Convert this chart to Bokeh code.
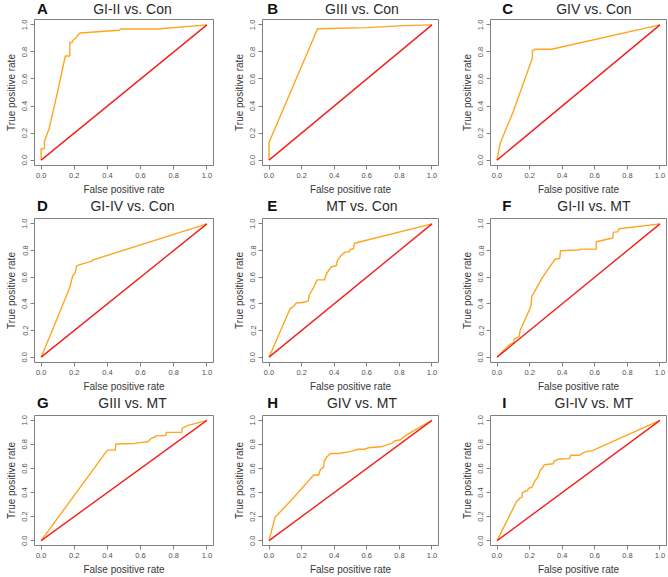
from bokeh.plotting import figure
from bokeh.layouts import gridplot
from bokeh.models import Range1d, FixedTicker, Label
from bokeh.embed import file_html
from bokeh.resources import INLINE

titles = ["GI-II vs. Con", "GIII vs. Con", "GIV vs. Con",
          "GI-IV vs. Con", "MT vs. Con", "GI-II vs. MT",
          "GIII vs. MT", "GIV vs. MT", "GI-IV vs. MT"]
letters = ["A", "B", "C", "D", "E", "F", "G", "H", "I"]

fpr_a = [0, 0, 0.02, 0.02, 0.05, 0.10, 0.146, 0.173, 0.173, 0.187, 0.195, 0.205, 0.215, 0.225, 0.235, 0.47, 0.48, 0.70, 1.0]
tpr_a = [0, 0.084, 0.084, 0.14, 0.24, 0.51, 0.77, 0.77, 0.87, 0.87, 0.89, 0.90, 0.91, 0.93, 0.94, 0.96, 0.97, 0.97, 1.0]

fpr_b = [0, 0, 0.298, 0.60, 0.83, 1.0]
tpr_b = [0, 0.13, 0.972, 0.98, 0.995, 1.0]

fpr_c = [0, 0.01, 0.02, 0.10, 0.217, 0.217, 0.235, 0.335, 1.0]
tpr_c = [0, 0.07, 0.126, 0.36, 0.756, 0.81, 0.82, 0.82, 1.0]

fpr_d = [0, 0.09, 0.173, 0.187, 0.195, 0.205, 0.215, 0.225, 0.305, 0.315, 1.0]
tpr_d = [0, 0.27, 0.524, 0.594, 0.62, 0.63, 0.686, 0.69, 0.72, 0.73, 1.0]

fpr_e = [0, 0.132, 0.142, 0.167, 0.203, 0.24, 0.248, 0.274, 0.295, 0.341, 0.35, 0.366, 0.382, 0.413, 0.42, 0.447, 0.47, 0.492, 0.498, 0.518, 0.524, 1.0]
tpr_e = [0, 0.37, 0.37, 0.406, 0.41, 0.42, 0.468, 0.524, 0.58, 0.58, 0.62, 0.65, 0.678, 0.686, 0.728, 0.768, 0.79, 0.79, 0.81, 0.81, 0.854, 1.0]

fpr_f = [0, 0.057, 0.081, 0.10, 0.105, 0.136, 0.142, 0.175, 0.209, 0.213, 0.28, 0.355, 0.385, 0.389, 0.497, 0.517, 0.609, 0.609, 0.71, 0.714, 0.74, 0.75, 1.0]
tpr_f = [0, 0.07, 0.098, 0.104, 0.137, 0.154, 0.2, 0.29, 0.384, 0.454, 0.60, 0.734, 0.74, 0.798, 0.804, 0.81, 0.81, 0.866, 0.894, 0.938, 0.94, 0.963, 1.0]

fpr_g = [0, 0.40, 0.447, 0.451, 0.563, 0.644, 0.66, 0.701, 0.752, 0.756, 0.848, 0.852, 0.888, 1.0]
tpr_g = [0, 0.752, 0.752, 0.803, 0.808, 0.822, 0.845, 0.873, 0.873, 0.90, 0.90, 0.935, 0.958, 1.0]

fpr_h = [0, 0.037, 0.142, 0.274, 0.305, 0.315, 0.335, 0.339, 0.355, 0.376, 0.427, 0.488, 0.508, 0.549, 0.589, 0.61, 0.687, 0.752, 0.772, 0.803, 0.844, 0.915, 1.0]
tpr_h = [0, 0.194, 0.344, 0.546, 0.546, 0.59, 0.611, 0.662, 0.696, 0.724, 0.724, 0.738, 0.744, 0.76, 0.76, 0.772, 0.78, 0.808, 0.83, 0.837, 0.879, 0.935, 1.0]

fpr_i = [0, 0.122, 0.132, 0.142, 0.152, 0.156, 0.176, 0.188, 0.193, 0.213, 0.223, 0.233, 0.25, 0.264, 0.278, 0.29, 0.345, 0.351, 0.375, 0.426, 0.446, 0.452, 0.507, 0.527, 0.558, 0.578, 1.0]
tpr_i = [0, 0.33, 0.338, 0.358, 0.358, 0.40, 0.414, 0.414, 0.437, 0.442, 0.47, 0.499, 0.527, 0.583, 0.603, 0.631, 0.639, 0.662, 0.676, 0.682, 0.682, 0.71, 0.71, 0.73, 0.744, 0.744, 1.0]

fprs = [fpr_a, fpr_b, fpr_c, fpr_d, fpr_e, fpr_f, fpr_g, fpr_h, fpr_i]
tprs = [tpr_a, tpr_b, tpr_c, tpr_d, tpr_e, tpr_f, tpr_g, tpr_h, tpr_i]

diag = [0.0, 1.0]
ticks = [0.0, 0.2, 0.4, 0.6, 0.8, 1.0]
tick_labels = ["0.0", "0.2", "0.4", "0.6", "0.8", "1.0"]

FONT = "Liberation Sans"
# layout (pixels)
col_w = [222, 223, 223]
col_l = [34, 40, 45]
col_r = [9, 7, 2]
letter_x = [3, 6, 15]
head_h = 16
plot_h = [181, 181, 167]
plot_top = [3, 5, 5]


def make_header(i):
    r, c = divmod(i, 3)
    w = col_w[c]
    h = figure(width=w, height=head_h, x_range=Range1d(0, w), y_range=Range1d(0, head_h),
               x_axis_type=None, y_axis_type=None, output_backend="svg",
               toolbar_location=None, min_border=0, min_border_left=0,
               min_border_right=0, min_border_top=0, min_border_bottom=0)
    h.outline_line_color = None
    h.xgrid.visible = False
    h.ygrid.visible = False
    h.background_fill_color = "white"
    h.border_fill_color = "white"
    frame_w = w - col_l[c] - col_r[c]
    h.add_layout(Label(x=col_l[c] + frame_w / 2 - 2, y=head_h / 2, text=titles[i],
                       text_font=FONT, text_font_size="14px", text_font_style="normal",
                       text_color="#2a2a2a", text_align="center", text_baseline="middle"))
    h.add_layout(Label(x=letter_x[c], y=head_h / 2, text=letters[i],
                       text_font=FONT, text_font_size="15px", text_font_style="bold",
                       text_color="#111111", text_align="left", text_baseline="middle"))
    return h


def make_plot(i):
    r, c = divmod(i, 3)
    p = figure(width=col_w[c], height=plot_h[r],
               x_range=Range1d(-0.04, 1.04), y_range=Range1d(-0.04, 1.04),
               output_backend="svg", toolbar_location=None,
               min_border_left=col_l[c], min_border_right=col_r[c],
               min_border_top=plot_top[r], min_border_bottom=30)
    p.xgrid.visible = False
    p.ygrid.visible = False
    p.outline_line_color = "#808080"
    p.outline_line_width = 1
    p.background_fill_color = "white"
    p.border_fill_color = "white"

    for ax in (p.xaxis[0], p.yaxis[0]):
        ax.ticker = FixedTicker(ticks=ticks)
        ax.major_label_overrides = {t: l for t, l in zip(ticks, tick_labels)}
        ax.minor_tick_line_color = None
        ax.axis_line_color = None
        ax.major_tick_line_color = "#808080"
        ax.major_tick_out = 4
        ax.major_tick_in = 0
        ax.major_label_text_font = FONT
        ax.major_label_text_font_size = "7.5px"
        ax.major_label_text_color = "#505050"
        ax.major_label_standoff = 3
        ax.axis_label_text_font = FONT
        ax.axis_label_text_font_size = "10px"
        ax.axis_label_text_font_style = "normal"
        ax.axis_label_text_color = "#383838"
        ax.axis_label_standoff = 3
    p.xaxis.axis_label = "False positive rate"
    p.yaxis.axis_label = "True positive rate"
    p.yaxis.major_label_orientation = "vertical"

    p.line(fprs[i], tprs[i], line_color="#FFA51F", line_width=1.4)
    p.line(diag, diag, line_color="#F2211B", line_width=1.4)
    return p


rows = []
for r in range(3):
    rows.append([make_header(3 * r + c) for c in range(3)])
    rows.append([make_plot(3 * r + c) for c in range(3)])

grid = gridplot(rows, toolbar_location=None)

open("out.html", "w").write(file_html(grid, INLINE))
